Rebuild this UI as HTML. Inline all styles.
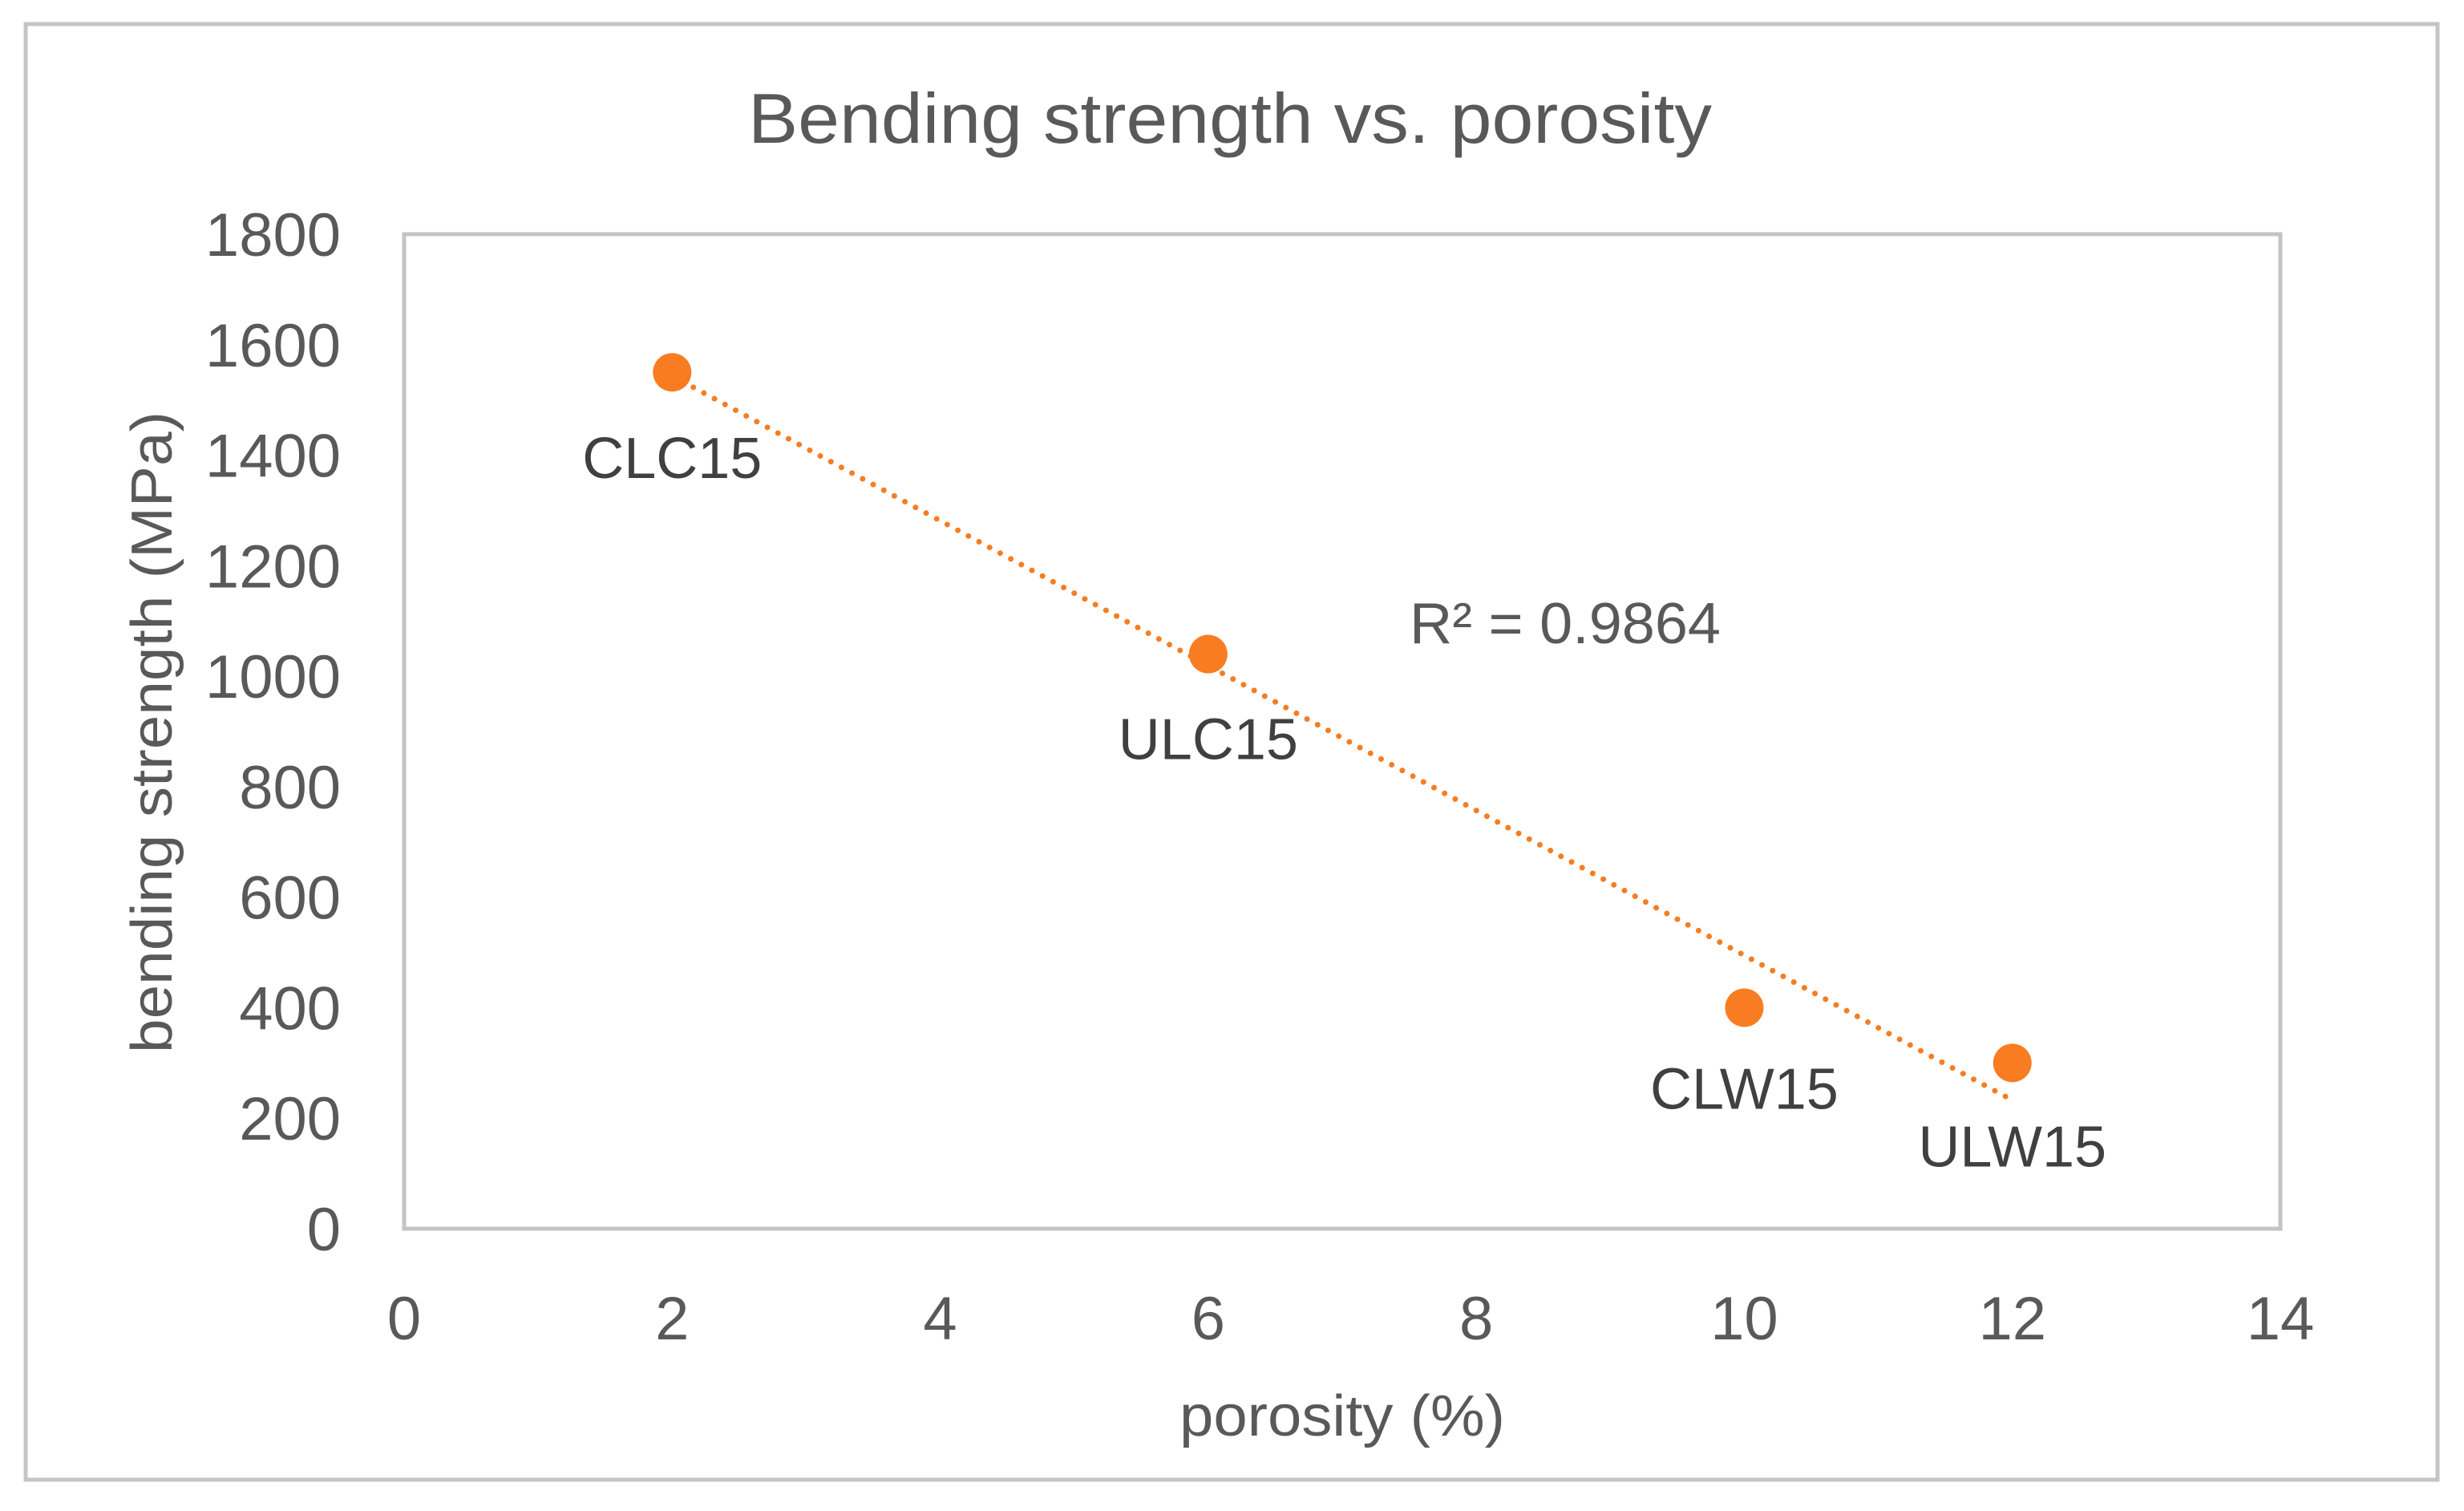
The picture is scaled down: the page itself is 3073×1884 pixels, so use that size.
<!DOCTYPE html>
<html><head><meta charset="utf-8"><style>
html,body{margin:0;padding:0;background:#fff;}
svg{display:block;}
text{font-family:"Liberation Sans",sans-serif;fill:#595959;}
</style></head><body>
<svg id="chart" width="3073" height="1884" viewBox="0 0 3073 1884" xmlns="http://www.w3.org/2000/svg">
<rect x="32" y="30" width="3008" height="1815" fill="#fff" stroke="#c4c4c4" stroke-width="5"/>
<text x="933" y="178" font-size="88" textLength="1202" lengthAdjust="spacingAndGlyphs">Bending  strength vs. porosity</text>
<rect x="504" y="292" width="2340" height="1240" fill="none" stroke="#c4c4c4" stroke-width="5"/>
<g id="xticks"></g><g id="yticks"></g>
<text x="1674" y="1790" font-size="72" text-anchor="middle" textLength="406" lengthAdjust="spacingAndGlyphs">porosity (%)</text>
<text transform="translate(214,913) rotate(-90)" font-size="72" text-anchor="middle" textLength="800" lengthAdjust="spacingAndGlyphs">bending strength (MPa)</text>
<g id="trend"></g><g id="points"></g>
<text x="1758" y="802" font-size="72" textLength="388" lengthAdjust="spacingAndGlyphs">R² = 0.9864</text>
</svg>
<script>
const categories = ["CLC15","ULC15","CLW15","ULW15"];
const porosity = [2, 6, 10, 12];
const strength = [1550, 1040, 400, 300];
const xTicks = [0,2,4,6,8,10,12,14];
const yTicks = [0,200,400,600,800,1000,1200,1400,1600,1800];
const labelDy = [106, 105, 100, 103];

const NS="http://www.w3.org/2000/svg";
const L=504,R=2844,T=292,B=1532;
const xs=v=>L+(v-0)/(14-0)*(R-L);
const ys=v=>B-(v-0)/(1800-0)*(B-T);
function mk(tag,attrs,parent){const e=document.createElementNS(NS,tag);for(const k in attrs)e.setAttribute(k,attrs[k]);parent.appendChild(e);return e;}

const xg=document.getElementById('xticks');
xTicks.forEach(t=>{const e=mk('text',{x:xs(t),y:1670,'font-size':76,'text-anchor':'middle'},xg);


e.textContent=t;});
const yg=document.getElementById('yticks');
yTicks.forEach(t=>{const e=mk('text',{x:425,y:ys(t)+27,'font-size':76,'text-anchor':'end'},yg);


e.textContent=t;});

const n=porosity.length;
const mx=porosity.reduce((a,b)=>a+b,0)/n, my=strength.reduce((a,b)=>a+b,0)/n;
let sxy=0,sxx=0;for(let i=0;i<n;i++){sxy+=(porosity[i]-mx)*(strength[i]-my);sxx+=(porosity[i]-mx)**2;}
const slope=sxy/sxx, icpt=my-slope*mx;
const x0=Math.min(...porosity), x1=Math.max(...porosity);
const tl=mk('line',{x1:xs(x0),y1:ys(icpt+slope*x0),x2:xs(x1),y2:ys(icpt+slope*x1),stroke:'#F57D22','stroke-width':7,'stroke-dasharray':'0 15','stroke-linecap':'round'},document.getElementById('trend'));



const pg=document.getElementById('points');
categories.forEach((c,i)=>{
 const cx=xs(porosity[i]), cy=ys(strength[i]);
 const p=mk('circle',{cx:cx,cy:cy,r:24,fill:'#F97C22'},pg);
 
 
 const t=mk('text',{x:cx,y:cy+labelDy[i]+26,'font-size':72,'text-anchor':'middle'},pg);
 
 
 t.style.fill='#404040';
 t.textContent=c;
});
</script>
</body></html>
